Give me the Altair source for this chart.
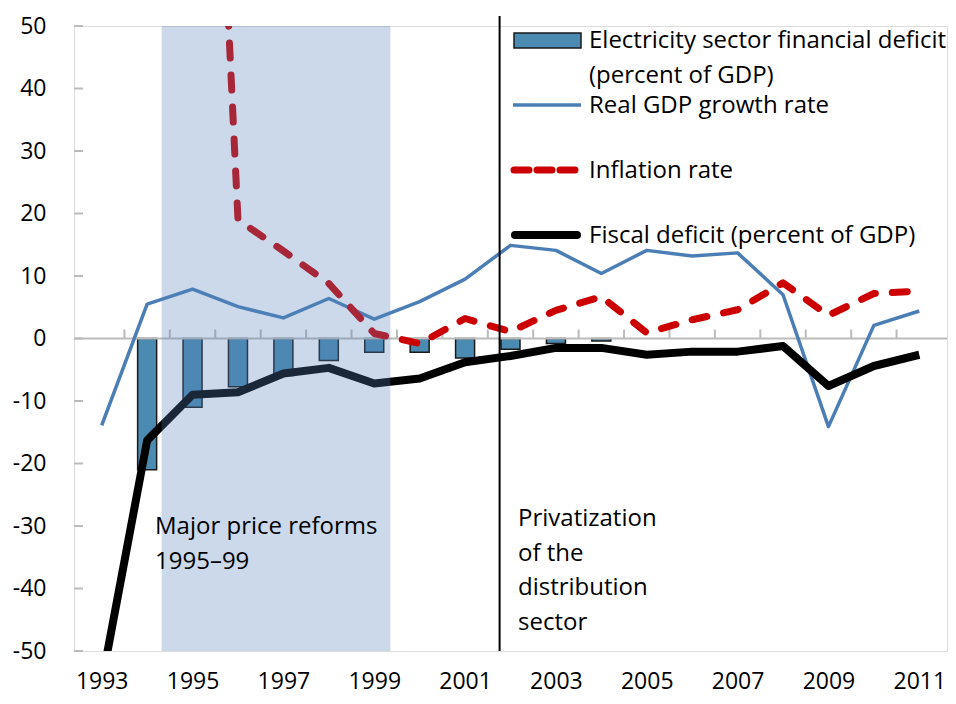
import altair as alt
import pandas as pd

# ---------------- data ----------------
years = list(range(1993, 2012))
gdp_growth = [-13.9, 5.5, 7.9, 5.1, 3.3, 6.4, 3.1, 5.9, 9.5, 14.9, 14.1, 10.4,
              14.1, 13.2, 13.7, 7.0, -14.1, 2.1, 4.4]
inflation_years = list(range(1995, 2012))
inflation = [170.0, 19.0, 14.0, 8.8, 0.8, -0.8, 3.2, 1.1, 4.5, 6.7, 0.9, 3.0,
             4.6, 8.9, 3.7, 7.2, 7.6]
fiscal_deficit = [-55.0, -16.3, -9.0, -8.6, -5.6, -4.7, -7.2, -6.4, -3.8, -2.8,
                  -1.5, -1.5, -2.6, -2.1, -2.1, -1.2, -7.6, -4.4, -2.6]
elec_years = list(range(1994, 2005))
elec_deficit = [-21.0, -11.0, -7.7, -5.9, -3.5, -2.2, -2.2, -3.1, -1.7, -0.8, -0.4]

y_ticks = [-50, -40, -30, -20, -10, 0, 10, 20, 30, 40, 50]
x_labels = [1993, 1995, 1997, 1999, 2001, 2003, 2005, 2007, 2009, 2011]
band_edges = [y + 0.5 for y in range(1993, 2011)]
reform_start, reform_end = 1994.32, 1999.355
privatization_year = 2001.76

df_gdp = pd.DataFrame({"year": years, "value": gdp_growth})
df_inf = pd.DataFrame({"year": inflation_years, "value": inflation})
df_fis = pd.DataFrame({"year": years, "value": fiscal_deficit})
df_elec = pd.DataFrame({"year": elec_years, "value": elec_deficit})
df_yt = pd.DataFrame({"v": y_ticks})
df_xt = pd.DataFrame({"x": band_edges})
df_one = pd.DataFrame({"k": [0]})

FONT = "Open Sans"
FS_AX = 23
FS = 24
W, H = 873, 625

xs = alt.Scale(domain=[1992.5, 2011.5], nice=False, zero=False)
ys = alt.Scale(domain=[-50, 50], nice=False, zero=False)
x_axis = alt.Axis(values=x_labels, format="d", tickSize=0, labelPadding=19,
                  domain=False, grid=False, title=None, labelFontSize=FS_AX,
                  labelColor="#000000", labelFont=FONT)
y_axis = alt.Axis(values=y_ticks, tickSize=0, labelPadding=28, domain=False,
                  grid=False, title=None, labelFontSize=FS_AX,
                  labelColor="#000000", labelFont=FONT,
                  labelExpr="'' + datum.value")

X = lambda f="year": alt.X(f"{f}:Q", scale=xs, axis=x_axis)
Y = lambda f="value": alt.Y(f"{f}:Q", scale=ys, axis=y_axis)

GRAY = "#BBBBBB"

# zero line and band ticks
zero_line = alt.Chart(df_one).mark_rule(color=GRAY, strokeWidth=2).encode(
    x=alt.value(0), x2=alt.value(W), y=alt.YDatum(0, scale=ys))
x_ticks = alt.Chart(df_xt).mark_rule(color=GRAY, strokeWidth=2, y2Offset=-9).encode(
    x=X("x"), y=alt.YDatum(0, scale=ys), y2=alt.Y2Datum(0))
y_tick_marks = alt.Chart(df_yt).mark_rule(color=GRAY, strokeWidth=2).encode(
    x=alt.value(0), x2=alt.value(9), y=Y("v"))

bars = alt.Chart(df_elec).mark_bar(size=19, color="#4B8BB2", stroke="#1A1A1A",
                                   strokeWidth=1.5).encode(x=X(), y=Y())

gdp_line = alt.Chart(df_gdp).mark_line(color="#4A7EB4", strokeWidth=3.5,
                                       strokeJoin="round").encode(x=X(), y=Y())
inf_line = alt.Chart(df_inf).mark_line(color="#CC0000", strokeWidth=7,
                                       strokeDash=[15, 17], strokeCap="round",
                                       strokeJoin="round", clip=True).encode(x=X(), y=Y())
fis_line = alt.Chart(df_fis).mark_line(color="#000000", strokeWidth=8,
                                       strokeJoin="round", clip=True).encode(x=X(), y=Y())

shade = alt.Chart(df_one).mark_rect(color="#5280BC", opacity=0.3).encode(
    x=alt.XDatum(reform_start, scale=xs), x2=alt.X2Datum(reform_end),
    y=alt.value(0), y2=alt.value(H))

priv_rule = alt.Chart(df_one).mark_rule(color="#000000", strokeWidth=2).encode(
    x=alt.XDatum(privatization_year, scale=xs), y=alt.value(-10), y2=alt.value(H))

txt = dict(font=FONT, fontSize=FS, color="#000000", align="left",
           baseline="alphabetic", lineHeight=34.5)
reform_text = alt.Chart(df_one).mark_text(
    text=["Major price reforms", "1995\u201399"], **txt).encode(
    x=alt.value(81), y=alt.value(508))
priv_text = alt.Chart(df_one).mark_text(
    text=["Privatization", "of the", "distribution", "sector"], **txt).encode(
    x=alt.value(444), y=alt.value(500))

# legend
leg_bar = alt.Chart(df_one).mark_rect(color="#4B8BB2", stroke="#1A1A1A",
                                      strokeWidth=1.5).encode(
    x=alt.value(440), x2=alt.value(507), y=alt.value(7), y2=alt.value(22))
leg_gdp = alt.Chart(df_one).mark_rule(color="#4A7EB4", strokeWidth=3.5).encode(
    x=alt.value(439), x2=alt.value(507), y=alt.value(79))
leg_inf = alt.Chart(df_one).mark_rule(color="#CC0000", strokeWidth=7,
                                      strokeDash=[15, 8], strokeCap="round").encode(
    x=alt.value(440), x2=alt.value(504), y=alt.value(144))
leg_fis = alt.Chart(df_one).mark_rule(color="#000000", strokeWidth=8,
                                      strokeCap="round").encode(
    x=alt.value(441), x2=alt.value(503), y=alt.value(209))
leg_t1 = alt.Chart(df_one).mark_text(
    text=["Electricity sector financial deficit", "(percent of GDP)"], **txt).encode(
    x=alt.value(515), y=alt.value(22))
leg_t2 = alt.Chart(df_one).mark_text(text="Real GDP growth rate", **txt).encode(
    x=alt.value(515), y=alt.value(87))
leg_t3 = alt.Chart(df_one).mark_text(text="Inflation rate", **txt).encode(
    x=alt.value(515), y=alt.value(152))
leg_t4 = alt.Chart(df_one).mark_text(text="Fiscal deficit (percent of GDP)", **txt).encode(
    x=alt.value(515), y=alt.value(217))

chart = alt.layer(
    bars, zero_line, x_ticks, y_tick_marks, gdp_line, inf_line, fis_line,
    shade, priv_rule, reform_text, priv_text,
    leg_bar, leg_gdp, leg_inf, leg_fis, leg_t1, leg_t2, leg_t3, leg_t4,
).properties(
    width=W, height=H,
    autosize=alt.AutoSizeParams(type="none"),
    padding={"left": 66, "top": 18, "right": 1, "bottom": 45},
).configure_view(stroke=GRAY, strokeWidth=2).configure(background="white")

chart.save("out.html", embed_options={"renderer": "svg", "actions": False})
